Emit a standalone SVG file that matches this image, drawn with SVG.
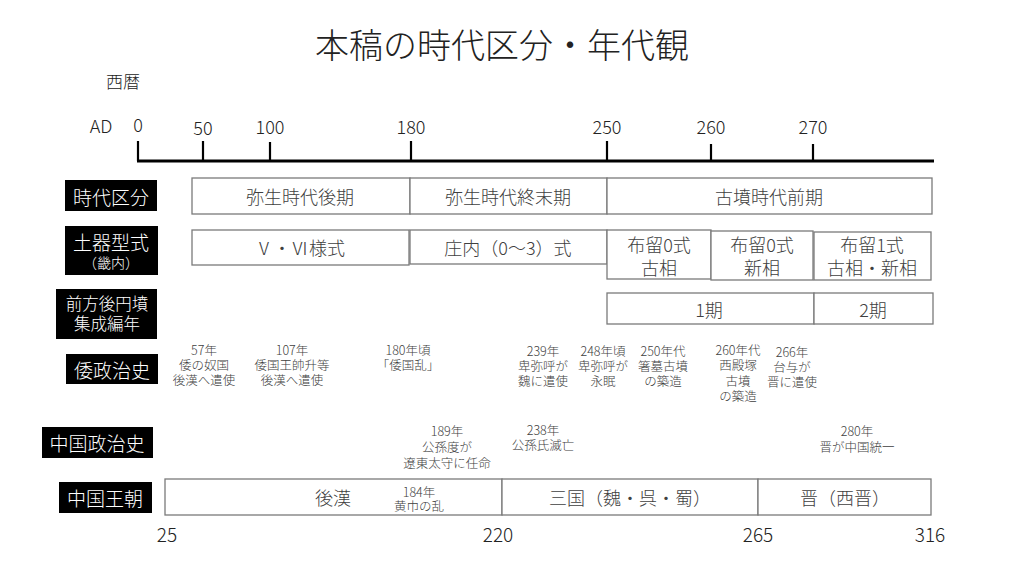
<svg xmlns="http://www.w3.org/2000/svg" width="1024" height="576" viewBox="0 0 1024 576">
<style>
text{font-family:"Noto Sans CJK JP","Noto Sans",sans-serif;font-weight:300;dominant-baseline:central;text-anchor:middle;fill:#404040}
.title{font-size:34px;fill:#222}
.lbl rect{fill:#000}
.lbl text{fill:#fff;font-size:19px}
.box{fill:#fff;stroke:#7a7a7a;stroke-width:1.3}
.bt{font-size:18px}
.an{font-size:12.5px}
.num{font-size:18px;fill:#222}
.ax{stroke:#000;stroke-width:2.2}
</style>
<rect width="1024" height="576" fill="#fff"/>
<text class="title" x="502" y="43">本稿の時代区分・年代観</text>

<g id="axis">
  <text class="num" x="123" y="80" style="font-size:17px">西暦</text>
  <text class="num" x="101" y="125">AD</text>
  <text class="num" x="138" y="124">0</text>
  <text class="num" x="203" y="127">50</text>
  <text class="num" x="270" y="126">100</text>
  <text class="num" x="411" y="126">180</text>
  <text class="num" x="607" y="126">250</text>
  <text class="num" x="711" y="126">260</text>
  <text class="num" x="813" y="126">270</text>
  <line class="ax" x1="137" y1="161" x2="934" y2="161" style="stroke-width:3"/>
  <line class="ax" x1="138" y1="141" x2="138" y2="161"/>
  <line class="ax" x1="203" y1="141" x2="203" y2="161"/>
  <line class="ax" x1="270" y1="142" x2="270" y2="161"/>
  <line class="ax" x1="411" y1="141" x2="411" y2="161"/>
  <line class="ax" x1="607" y1="141" x2="607" y2="161"/>
  <line class="ax" x1="711" y1="144" x2="711" y2="161"/>
  <line class="ax" x1="813" y1="144" x2="813" y2="161"/>
</g>
<g id="connectors"></g>

<g id="label-jidai" class="lbl"><rect x="65" y="180" width="92" height="31"/><text x="111" y="196">時代区分</text></g>
<g id="label-doki" class="lbl"><rect x="65" y="226" width="93" height="49"/><text x="111" y="241">土器型式</text><text x="111" y="262" style="font-size:14px">（畿内）</text></g>
<g id="label-kofun" class="lbl"><rect x="56" y="289" width="101" height="50"/><text x="107" y="303" style="font-size:16.5px">前方後円墳</text><text x="107" y="323" style="font-size:16.5px">集成編年</text></g>
<g id="label-wa" class="lbl"><rect x="66" y="354" width="92" height="30"/><text x="112" y="369">倭政治史</text></g>
<g id="label-chugoku" class="lbl"><rect x="42" y="427" width="111" height="31"/><text x="97" y="442">中国政治史</text></g>
<g id="label-ocho" class="lbl"><rect x="59" y="482" width="93" height="31"/><text x="105" y="497">中国王朝</text></g>

<g id="yayoi-late"><rect class="box" x="192" y="178" width="218" height="36"/><text class="bt" x="300" y="196">弥生時代後期</text></g>
<g id="yayoi-end"><rect class="box" x="410" y="178" width="197" height="36"/><text class="bt" x="508" y="196">弥生時代終末期</text></g>
<g id="kofun-early"><rect class="box" x="607" y="178" width="325" height="36"/><text class="bt" x="769" y="196">古墳時代前期</text></g>

<g id="yoshiki56"><rect class="box" x="192" y="230" width="217" height="35"/><text class="bt" x="300" y="247">Ⅴ・Ⅵ様式</text></g>
<g id="shonai"><rect class="box" x="410" y="230" width="197" height="34"/><text class="bt" x="508" y="247">庄内（0〜3）式</text></g>
<g id="furu0-old"><rect class="box" x="607" y="230" width="104" height="49"/><text class="bt" x="659" y="244">布留0式</text><text class="bt" x="659" y="267">古相</text></g>
<g id="furu0-new"><rect class="box" x="711" y="231" width="102" height="49"/><text class="bt" x="762" y="244">布留0式</text><text class="bt" x="762" y="267">新相</text></g>
<g id="furu1"><rect class="box" x="814" y="232" width="117" height="48"/><text class="bt" x="872" y="244">布留1式</text><text class="bt" x="872" y="267">古相・新相</text></g>

<g id="ki1"><rect class="box" x="607" y="293" width="207" height="31"/><text class="bt" x="709" y="309">1期</text></g>
<g id="ki2"><rect class="box" x="814" y="293" width="119" height="31"/><text class="bt" x="873" y="309">2期</text></g>

<g id="wa-events">
  <text class="an" x="204" y="349">57年</text><text class="an" x="204" y="364">倭の奴国</text><text class="an" x="204" y="379">後漢へ遣使</text>
  <text class="an" x="292" y="349">107年</text><text class="an" x="292" y="364">倭国王帥升等</text><text class="an" x="292" y="379">後漢へ遣使</text>
  <text class="an" x="408" y="349">180年頃</text><text class="an" x="408" y="364">「倭国乱」</text>
  <text class="an" x="543" y="350">239年</text><text class="an" x="543" y="365">卑弥呼が</text><text class="an" x="543" y="380">魏に遣使</text>
  <text class="an" x="603" y="350">248年頃</text><text class="an" x="603" y="365">卑弥呼が</text><text class="an" x="603" y="380">永眠</text>
  <text class="an" x="663" y="350">250年代</text><text class="an" x="663" y="365">箸墓古墳</text><text class="an" x="663" y="380">の築造</text>
  <text class="an" x="738" y="349">260年代</text><text class="an" x="738" y="364">西殿塚</text><text class="an" x="738" y="380">古墳</text><text class="an" x="738" y="395">の築造</text>
  <text class="an" x="792" y="351">266年</text><text class="an" x="792" y="366">台与が</text><text class="an" x="792" y="381">晋に遣使</text>
</g>

<g id="china-events">
  <text class="an" x="447" y="430">189年</text><text class="an" x="447" y="446">公孫度が</text><text class="an" x="447" y="462">遼東太守に任命</text>
  <text class="an" x="543" y="429">238年</text><text class="an" x="543" y="444">公孫氏滅亡</text>
  <text class="an" x="857" y="430">280年</text><text class="an" x="857" y="446">晋が中国統一</text>
</g>

<g id="gokan"><rect class="box" x="165" y="479" width="337" height="36"/><text class="bt" x="333" y="497">後漢</text><text class="an" x="419" y="491">184年</text><text class="an" x="419" y="505">黄巾の乱</text></g>
<g id="sangoku"><rect class="box" x="502" y="479" width="256" height="36"/><text class="bt" x="630" y="497">三国（魏・呉・蜀）</text></g>
<g id="shin"><rect class="box" x="758" y="479" width="173" height="36"/><text class="bt" x="845" y="497">晋（西晋）</text></g>

<g id="years">
  <text class="num" style="font-size:19px" x="167" y="533">25</text>
  <text class="num" style="font-size:19px" x="498" y="533">220</text>
  <text class="num" style="font-size:19px" x="758" y="533">265</text>
  <text class="num" style="font-size:19px" x="930" y="533">316</text>
</g>
</svg>
